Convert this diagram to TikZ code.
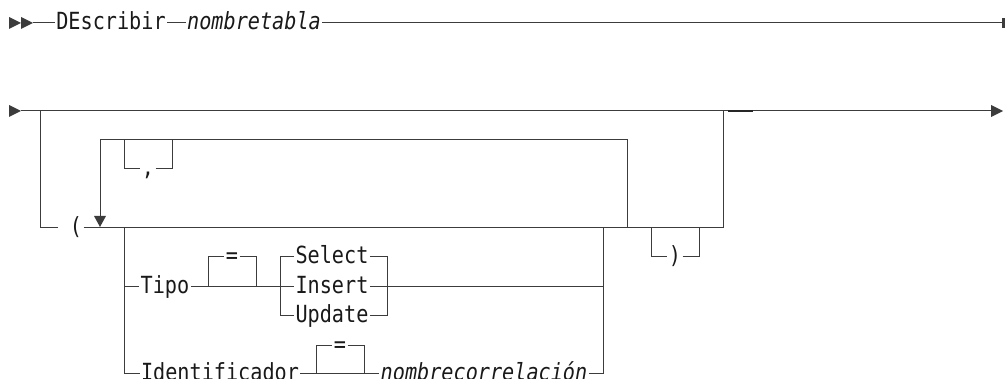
\documentclass[tikz,border=0pt]{standalone}
\usepackage{fontspec}
\usepackage{tikz}
\newfontfamily\railfont[FakeStretch=0.855]{DejaVu Sans Mono}
\definecolor{railgray}{RGB}{60,60,60}
\definecolor{railtext}{RGB}{25,25,25}
% punta de flecha (triangulo hacia la derecha)
\newcommand{\railtip}[2]{\fill[railgray] (#1,#2) ++(0,-6) -- ++(12,6) -- ++(-12,6) -- cycle;}

\begin{document}
\begin{tikzpicture}[x=1pt,y=-1pt,
    rail/.style={railgray,line width=1pt},
    word/.style={inner xsep=1.5pt,inner ysep=0pt,outer sep=0pt,
      text height=13pt,text depth=0pt,text=railtext,
      font=\railfont\fontsize{23.6}{24}\selectfont},
    var/.style={word,font=\railfont\itshape\fontsize{23.6}{24}\selectfont}]
    \useasboundingbox (0,0) rectangle (1005,379);

    % Linea 1: DEscribir nombretabla
    \node[word] (describir) at (111,23) {DEscribir};
    \node[var] (nombretabla) at (254,23) {nombretabla};
    \coordinate (fin1) at (1002,23);
    \railtip{9}{23}
    \railtip{21}{23}
    \draw[rail] (33,23) -- (describir.west)
      (describir.east) -- (nombretabla.west)
      (nombretabla.east) -- (fin1);
    \fill[railgray] (1002,18) rectangle (1005,28);

    % Linea 2: linea principal
    \coordinate (ini2) at (21,111);
    \coordinate (fin2) at (991,111);
    \railtip{9}{111}
    \railtip{991}{111}
    \draw[rail] (ini2) -- (fin2);
    \draw[line width=1.4pt,black!85] (728,111) -- (753,111);

    % Grupo opcional ( ... )
    \node[word] (abre) at (76,228) {(};
    \draw[rail] (40,111) -- (40,228) -- (58,228);
    \draw[rail] (abre.east) -- (723,228) -- (723,111);

    % Bucle de repeticion con coma
    \draw[rail] (627,228) -- (627,140) -- (100,140) -- (100,216);
    \fill[railgray] (94,216) -- (106,216) -- (100,227) -- cycle;
    \node[word] (coma) at (148,169) {,};
    \draw[rail] (124,140) -- (124,169) -- (coma.west)
      (coma.east) -- (172,169) -- (172,140);

    % Opciones: Tipo
    \node[word] (tipo) at (165,287) {Tipo};
    \node[word] (igualtipo) at (232,257) {=};
    \foreach \opc/\y in {Select/257,Insert/287,Update/316}
      \node[word] (\opc) at (332,\y) {\opc};
    \draw[rail] (124,228) -- (124,374);
    \draw[rail] (603,228) -- (603,374);
    \draw[rail] (124,287) -- (tipo.west)
      (tipo.east) -- (Insert.west)
      (Insert.east) -- (603,287);
    \draw[rail] (208,287) -- (208,257) -- (igualtipo.west)
      (igualtipo.east) -- (256,257) -- (256,287);
    \draw[rail] (Select.west) -- (280,257) -- (280,316) -- (Update.west);
    \draw[rail] (Select.east) -- (387,257) -- (387,316) -- (Update.east);

    % Opciones: Identificador
    \node[word] (identificador) at (220,374) {Identificador};
    \node[word] (igualid) at (340,346) {=};
    \node[var] (nombrecorr) at (484,374) {nombrecorrelación};
    \draw[rail] (124,374) -- (identificador.west)
      (identificador.east) -- (nombrecorr.west)
      (nombrecorr.east) -- (603,374);
    \draw[rail] (316,374) -- (316,346) -- (igualid.west)
      (igualid.east) -- (364,346) -- (364,374);

    % Parentesis de cierre opcional
    \node[word] (cierra) at (675,257) {)};
    \draw[rail] (651,228) -- (651,257) -- (cierra.west)
      (cierra.east) -- (699,257) -- (699,228);

\end{tikzpicture}
\end{document}
